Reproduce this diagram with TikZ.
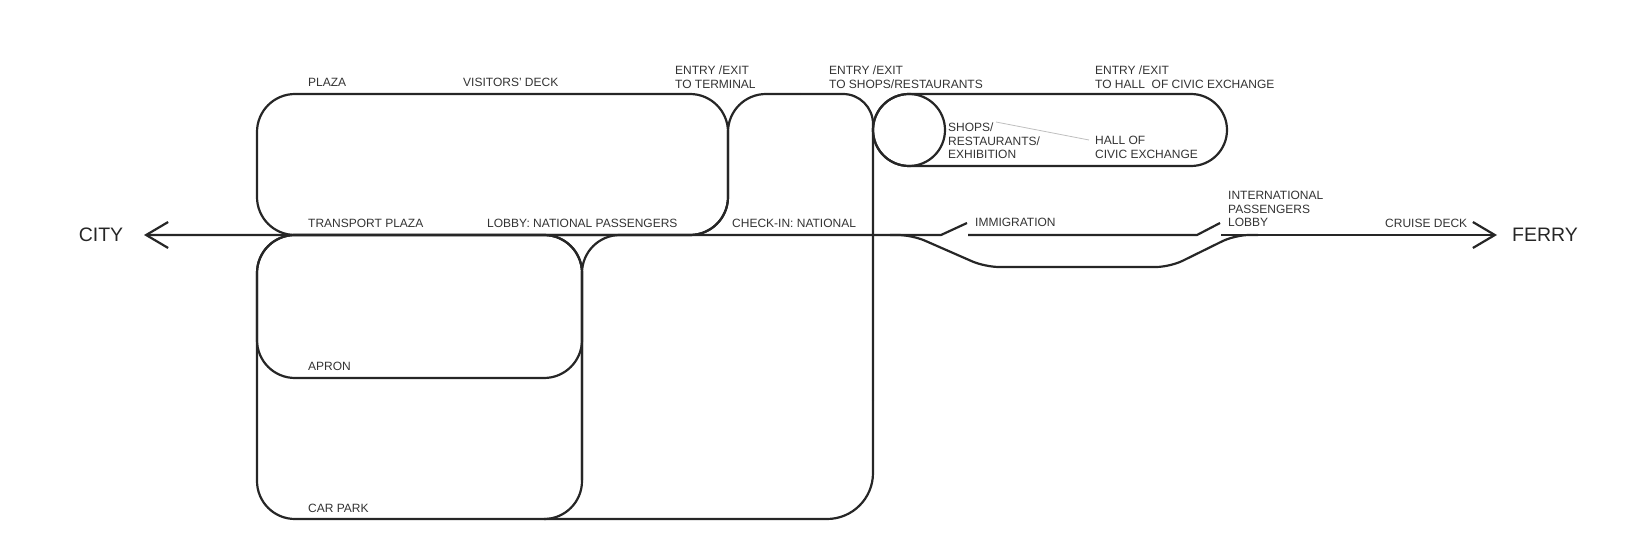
\documentclass[tikz,border=0pt]{standalone}
\usepackage{fontspec}
\setmainfont{Liberation Sans}
\usetikzlibrary{arrows.meta}
\begin{document}
\begin{tikzpicture}[x=1pt, y=-1pt,
        track/.style={line width=2.2pt, draw=black!85, line join=round},
        lbl/.style={anchor=north west, inner sep=0pt, align=left, text=black!80, font=\fontsize{12}{13.5}\selectfont},
        endlbl/.style={inner sep=0pt, text=black!85, font=\fontsize{19.5}{22}\selectfont},
        faint/.style={draw=black!25, line width=0.8pt},
        >={Straight Barb[length=22pt, width=26pt]},
        ]
            \useasboundingbox (0,0) rectangle (1633,556);

            % upper level
            \draw[track, rounded corners=38pt] (257,94) rectangle (728,235);
            \draw[track, rounded corners=38pt] (582,480) -- (582,235) -- (728,235) -- (728,94) -- (800,94);
            \draw[track, rounded corners=30pt] (800,94) -- (873,94) -- (873,400);
            \draw[track, rounded corners=46pt] (873,400) -- (873,519) -- (544,519);
            \draw[track] (909,130) circle (36);
            \draw[track, rounded corners=36pt] (873,94) rectangle (1227,166);

            % lower level
            \draw[track, rounded corners=38pt] (257,235) rectangle (582,378);
            \draw[track, rounded corners=38pt] (257,235) rectangle (582,519);

            % main axis
            \coordinate (citytip) at (144,235);
            \coordinate (gateA) at (941,235);
            \coordinate (gateAtop) at (967,223);
            \coordinate (gateB) at (968,235);
            \coordinate (gateC) at (1197,235);
            \coordinate (gateCtop) at (1220,223);
            \coordinate (gateD) at (1221,235);
            \coordinate (ferrytip) at (1497,235);
            \draw[track, <-] (citytip) -- (gateA) -- (gateAtop);
            \draw[track] (gateB) -- (gateC) -- (gateCtop);
            \draw[track, ->] (gateD) -- (ferrytip);
            \draw[track, rounded corners=14pt] (890,235) -- (912,235) -- (985,267) -- (1170,267) -- (1235,235) -- (1258,235);

            \node[endlbl] at(101,235) (city) {CITY};
            \node[endlbl, anchor=west] at(1512,235) (ferry) {FERRY};

            \node[lbl] at(308,78) (plaza) {PLAZA};
            \node[lbl] at(463,78) (visdeck) {VISITORS' DECK};
            \node[lbl] at(675,66) (entryterm) {ENTRY /EXIT\\TO TERMINAL};
            \node[lbl] at(829,66) (entryshops) {ENTRY /EXIT\\TO SHOPS/RESTAURANTS};
            \node[lbl] at(1095,66) (entryhall) {ENTRY /EXIT\\TO HALL\ \ OF CIVIC EXCHANGE};
            \node[lbl] at(948,123) (shops) {SHOPS/\\RESTAURANTS/\\EXHIBITION};
            \node[lbl] at(1095,136) (hall) {HALL OF\\CIVIC EXCHANGE};
            \node[lbl] at(308,219) (transport) {TRANSPORT PLAZA};
            \node[lbl] at(487,219) (lobbynat) {LOBBY: NATIONAL PASSENGERS};
            \node[lbl] at(732,219) (checkin) {CHECK-IN: NATIONAL};
            \node[lbl] at(975,218) (immig) {IMMIGRATION};
            \node[lbl] at(1228,191) (intlobby) {INTERNATIONAL\\PASSENGERS\\LOBBY};
            \node[lbl] at(1385,219) (cruise) {CRUISE DECK};
            \node[lbl] at(308,362) (apron) {APRON};
            \node[lbl] at(308,504) (carpark) {CAR PARK};

            \coordinate (shopsend) at (996,122);
            \coordinate (hallstart) at (1089,140);
            \draw[faint] (shopsend) -- (hallstart);

            \end{tikzpicture}
\end{document}
